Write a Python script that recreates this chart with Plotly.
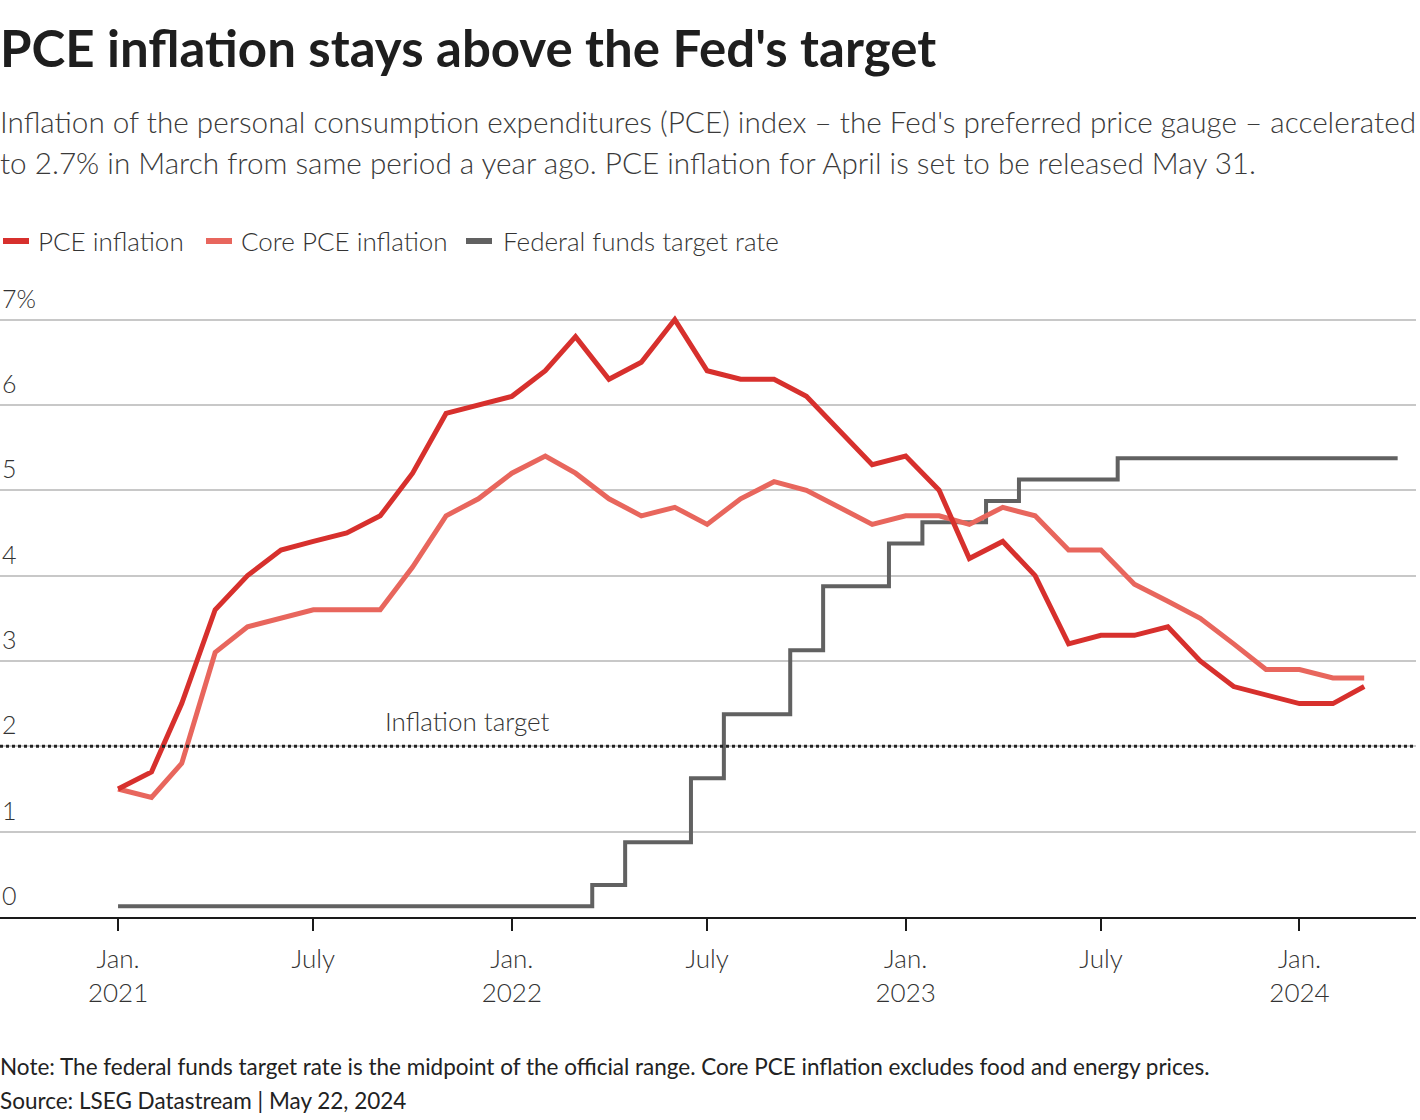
import plotly.graph_objects as go
import pandas as pd

months = pd.date_range("2021-01-01", "2024-03-01", freq="MS")
fed_months = pd.date_range("2021-01-01", "2024-04-01", freq="MS")

pce = [1.5, 1.7, 2.5, 3.6, 4.0, 4.3, 4.4, 4.5, 4.7, 5.2, 5.9, 6.0,
       6.1, 6.4, 6.8, 6.3, 6.5, 7.0, 6.4, 6.3, 6.3, 6.1, 5.7, 5.3,
       5.4, 5.0, 4.2, 4.4, 4.0, 3.2, 3.3, 3.3, 3.4, 3.0, 2.7, 2.6,
       2.5, 2.5, 2.7]
core_pce = [1.5, 1.4, 1.8, 3.1, 3.4, 3.5, 3.6, 3.6, 3.6, 4.1, 4.7, 4.9,
            5.2, 5.4, 5.2, 4.9, 4.7, 4.8, 4.6, 4.9, 5.1, 5.0, 4.8, 4.6,
            4.7, 4.7, 4.6, 4.8, 4.7, 4.3, 4.3, 3.9, 3.7, 3.5, 3.2, 2.9,
            2.9, 2.8, 2.8]
fed_rate = [0.125] * 12 + [
    0.125, 0.125, 0.125, 0.375, 0.875, 0.875, 1.625, 2.375, 2.375, 3.125, 3.875, 3.875,
    4.375, 4.625, 4.625, 4.875, 5.125, 5.125, 5.125, 5.375, 5.375, 5.375, 5.375, 5.375,
    5.375, 5.375, 5.375, 5.375]

tick_dates = ["2021-01-01", "2021-07-01", "2022-01-01", "2022-07-01",
              "2023-01-01", "2023-07-01", "2024-01-01"]
tick_labels = ["Jan.<br>2021", "July", "Jan.<br>2022", "July",
               "Jan.<br>2023", "July", "Jan.<br>2024"]
y_ticks = [0, 1, 2, 3, 4, 5, 6, 7]
y_labels = ["0", "1", "2", "3", "4", "5", "6", "7%"]
inflation_target = 2

series_names = ["PCE inflation", "Core PCE inflation", "Federal funds target rate"]

FONT = "Lato"
C_PCE = "#d7302d"
C_CORE = "#e8665d"
C_FED = "#616161"
series_colors = [C_PCE, C_CORE, C_FED]

W, H = 1420, 1120
L, R = 0, 4
T, B = 311, 203
PLOT_H = H - T - B
PLOT_W = W - L - R


def py(pix):
    """pixel-from-top to paper y"""
    return (H - B - pix) / PLOT_H


def px(pix):
    """pixel-from-left to paper x"""
    return (pix - L) / PLOT_W


fig = go.Figure()
fig.add_trace(go.Scatter(x=fed_months, y=fed_rate, mode="lines", name=series_names[2],
                         line=dict(color=C_FED, width=4, shape="hvh")))
fig.add_trace(go.Scatter(x=months, y=core_pce, mode="lines", name=series_names[1],
                         line=dict(color=C_CORE, width=5)))
fig.add_trace(go.Scatter(x=months, y=pce, mode="lines", name=series_names[0],
                         line=dict(color=C_PCE, width=5)))

fig.add_shape(type="line", xref="paper", x0=0, x1=1, yref="y", y0=inflation_target, y1=inflation_target,
              line=dict(color="#222222", width=3, dash="dot"))
fig.add_annotation(x="2022-01-01", y=inflation_target, xref="x", yref="y", text="Inflation target",
                   showarrow=False, xanchor="center", yanchor="bottom", yshift=7,
                   xshift=-44,
                   font=dict(family=FONT, size=26, color="#333333", weight=300))

for v, lab in zip(y_ticks, y_labels):
    fig.add_annotation(x=0, xref="paper", y=v, yref="y", text=lab, showarrow=False,
                       xanchor="left", yanchor="bottom", yshift=5,
                       font=dict(family=FONT, size=25, color="#333333", weight=300))

# manual legend
legend_sym_x = [0, 203, 463]
legend_txt_x = [38, 241, 503]
LEG_Y = 241
for name, col, sx, tx in zip(series_names, series_colors, legend_sym_x, legend_txt_x):
    fig.add_shape(type="line", xref="paper", yref="paper", x0=px(sx + 3), x1=px(sx + 29),
                  y0=py(LEG_Y), y1=py(LEG_Y), line=dict(color=col, width=6))
    fig.add_annotation(x=px(tx), xref="paper", y=py(LEG_Y), yref="paper", text=name,
                       showarrow=False, xanchor="left", yanchor="middle", xshift=-2,
                       font=dict(family=FONT, size=26, color="#333333", weight=300))

fig.add_annotation(x=0, xref="paper", y=py(48), yref="paper", text="<b>PCE inflation stays above the Fed's target</b>",
                   showarrow=False, xanchor="left", yanchor="middle", xshift=-2,
                   font=dict(family=FONT, size=51, color="#1e1e1e"))
sub_lines = ["Inflation of the personal consumption expenditures (PCE) index – the Fed's preferred price gauge – accelerated",
             "to 2.7% in March from same period a year ago. PCE inflation for April is set to be released May 31."]
for txt, yy in zip(sub_lines, [122, 162]):
    fig.add_annotation(x=0, xref="paper", y=py(yy), yref="paper", text=txt,
                       showarrow=False, xanchor="left", yanchor="middle", xshift=-2,
                       font=dict(family=FONT, size=29.7, color="#3a3a3a", weight=300))
foot_lines = ["Note: The federal funds target rate is the midpoint of the official range. Core PCE inflation excludes food and energy prices.",
              "Source: LSEG Datastream | May 22, 2024"]
for txt, yy in zip(foot_lines, [1066, 1100]):
    fig.add_annotation(x=0, xref="paper", y=py(yy), yref="paper", text=txt,
                       showarrow=False, xanchor="left", yanchor="middle", xshift=-2,
                       font=dict(family=FONT, size=22.5, color="#222222"))

fig.update_layout(
    width=W, height=H,
    margin=dict(l=L, r=R, t=T, b=B),
    paper_bgcolor="white", plot_bgcolor="white",
    font=dict(family=FONT, color="#333333"),
    showlegend=False,
    xaxis=dict(range=["2020-09-13 14:00", "2024-04-18"], tickvals=tick_dates, ticktext=tick_labels,
               showgrid=False, showline=True, linecolor="#1a1a1a", linewidth=2,
               ticks="outside", ticklen=12, tickwidth=2, tickcolor="#1a1a1a",
               ticklabelstandoff=6,
               tickfont=dict(family=FONT, size=26, color="#333333", weight=300),
               zeroline=False, fixedrange=True),
    yaxis=dict(range=[0, 7.1], tickvals=y_ticks, showticklabels=False, showgrid=True,
               gridcolor="#c8c8c8", gridwidth=2, zeroline=False, fixedrange=True),
)

fig.write_html("out.html", config={"displayModeBar": False},
               post_script="document.body.style.margin='0';document.body.style.overflow='hidden';")
